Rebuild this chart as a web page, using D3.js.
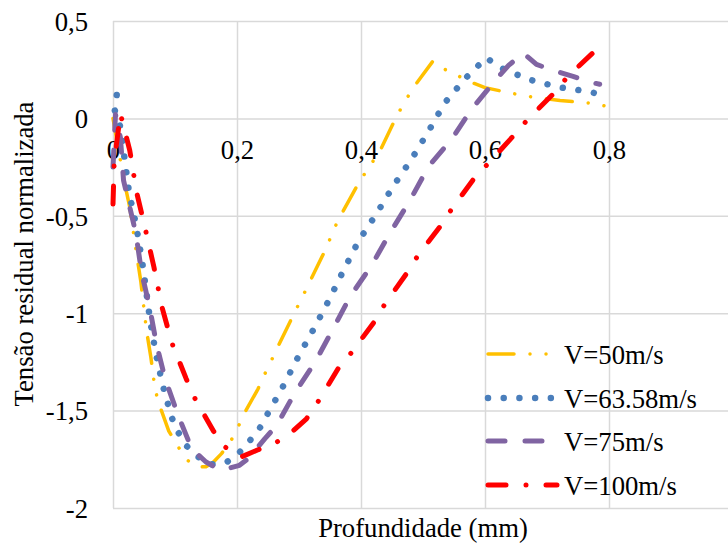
<!DOCTYPE html>
<html>
<head>
<meta charset="utf-8">
<script src="https://cdn.jsdelivr.net/npm/d3@7"></script>
<style>
  body { margin: 0; background: #fff; }
  svg text { font-family: "Liberation Serif", "Tinos", "Times New Roman", "DejaVu Serif", serif !important; fill: #000; }
</style>
</head>
<body>
<div id="chart"></div>
<script>
// tick labels (comma decimal, as in the original)
const xTicks = [0, 0.2, 0.4, 0.6, 0.8];
const xTickLabels = ["0", "0,2", "0,4", "0,6", "0,8"];
const xGrid = [0, 0.2, 0.4, 0.6, 0.8, 1];
const yTicks = [0.5, 0, -0.5, -1, -1.5, -2];
const yTickLabels = ["0,5", "0", "-0,5", "-1", "-1,5", "-2"];

const seriesNames = ["V=50m/s", "V=63.58m/s", "V=75m/s", "V=100m/s"];

// V=50m/s
const depth50 = [0, 0.017, 0.027, 0.038, 0.045, 0.054, 0.061, 0.068, 0.075, 0.090, 0.104, 0.117, 0.135, 0.150, 0.162, 0.175, 0.189, 0.201, 0.212, 0.234, 0.245, 0.256, 0.267, 0.288, 0.310, 0.342, 0.362, 0.397, 0.431, 0.458, 0.483, 0.516, 0.533, 0.553, 0.577, 0.600, 0.646, 0.670, 0.721, 0.768, 0.800];
const stress50 = [0, -0.308, -0.455, -0.695, -0.840, -1.088, -1.225, -1.393, -1.473, -1.605, -1.679, -1.747, -1.790, -1.788, -1.764, -1.721, -1.662, -1.590, -1.513, -1.388, -1.311, -1.239, -1.165, -1.028, -0.887, -0.678, -0.529, -0.327, -0.164, 0.015, 0.152, 0.294, 0.255, 0.224, 0.186, 0.158, 0.127, 0.113, 0.092, 0.079, 0.060];

// V=63.58m/s
const depth63 = [0.006, 0.003, 0.012, 0.019, 0.026, 0.037, 0.046, 0.053, 0.060, 0.069, 0.080, 0.087, 0.094, 0.104, 0.118, 0.136, 0.159, 0.183, 0.204, 0.221, 0.237, 0.250, 0.275, 0.299, 0.325, 0.349, 0.372, 0.396, 0.425, 0.452, 0.482, 0.509, 0.535, 0.568, 0.602, 0.623, 0.648, 0.672, 0.697, 0.723, 0.748, 0.774, 0.800];
const stress63 = [0.12, 0.04, -0.045, -0.216, -0.383, -0.544, -0.712, -0.873, -1.040, -1.205, -1.367, -1.448, -1.530, -1.605, -1.679, -1.735, -1.776, -1.766, -1.715, -1.653, -1.588, -1.513, -1.371, -1.222, -1.074, -0.928, -0.779, -0.630, -0.489, -0.348, -0.207, -0.065, 0.079, 0.204, 0.312, 0.263, 0.229, 0.199, 0.178, 0.158, 0.147, 0.132, 0.113];

// V=75m/s
const depth75 = [0, 0.004, 0.012, 0.017, 0.037, 0.046, 0.059, 0.070, 0.084, 0.104, 0.127, 0.150, 0.174, 0.204, 0.218, 0.245, 0.264, 0.294, 0.326, 0.355, 0.382, 0.417, 0.447, 0.479, 0.509, 0.546, 0.579, 0.619, 0.638, 0.662, 0.683, 0.713, 0.742, 0.770, 0.785];
const stress75 = [-0.25, 0.02, -0.10, -0.318, -0.592, -0.789, -0.969, -1.157, -1.336, -1.516, -1.696, -1.764, -1.807, -1.781, -1.747, -1.644, -1.576, -1.405, -1.251, -1.080, -0.917, -0.755, -0.587, -0.421, -0.246, -0.108, 0.050, 0.204, 0.272, 0.335, 0.277, 0.243, 0.216, 0.186, 0.175];

// V=100m/s
const depth100 = [0, 0.002, 0.012, 0.027, 0.038, 0.052, 0.066, 0.079, 0.095, 0.118, 0.131, 0.162, 0.181, 0.205, 0.234, 0.264, 0.291, 0.312, 0.331, 0.363, 0.384, 0.421, 0.438, 0.474, 0.491, 0.529, 0.547, 0.584, 0.606, 0.648, 0.669, 0.713, 0.734, 0.782];
const stress100 = [-0.44, -0.22, 0.024, -0.164, -0.378, -0.566, -0.763, -0.969, -1.153, -1.336, -1.431, -1.605, -1.687, -1.740, -1.701, -1.662, -1.602, -1.542, -1.453, -1.285, -1.205, -1.046, -0.956, -0.794, -0.708, -0.549, -0.462, -0.301, -0.229, -0.082, -0.005, 0.135, 0.217, 0.360];

const depths = [depth50, depth63, depth75, depth100];
const stresses = [stress50, stress63, stress75, stress100];

const styles = [
  { color: "#FFC000", width: 3.5, dash: "26 16 0.01 16 0.01 16" },
  { color: "#4A7EBB", width: 6.5, dash: "0.01 15.7" },
  { color: "#8064A2", width: 5, dash: "17 20" },
  { color: "#FF0000", width: 5, dash: "18 20 0.01 20" }
];

const FONT = "'Liberation Serif', Tinos, 'Times New Roman', 'DejaVu Serif', serif";
const W = 728, H = 545;
const plot = { left: 113, right: 733, top: 21, bottom: 508 };

const svg = d3.select("#chart").append("svg")
  .attr("width", W)
  .attr("height", H)
  .attr("font-family", FONT);

const x = d3.scaleLinear().domain([0, 1]).range([plot.left, plot.right]);
const y = d3.scaleLinear().domain([-2, 0.5]).range([plot.bottom, plot.top]);

// gridlines
const gridColor = "#d9d9d9";
svg.append("g")
  .attr("transform", "translate(0," + plot.bottom + ")")
  .call(d3.axisBottom(x).tickValues(xGrid).tickSize(-(plot.bottom - plot.top)).tickFormat(""))
  .call(g => g.select(".domain").remove())
  .call(g => g.selectAll("line").attr("stroke", gridColor).attr("stroke-width", 1.5));

svg.append("g")
  .attr("transform", "translate(" + plot.left + ",0)")
  .call(d3.axisLeft(y).tickValues(yTicks).tickSize(-(plot.right - plot.left)).tickFormat(""))
  .call(g => g.select(".domain").remove())
  .call(g => g.selectAll("line").attr("stroke", gridColor).attr("stroke-width", 1.5));

// y tick labels
svg.append("g")
  .attr("transform", "translate(" + (plot.left - 25) + ",0)")
  .call(d3.axisLeft(y).tickValues(yTicks).tickSize(0).tickPadding(0)
    .tickFormat((d, i) => yTickLabels[i]))
  .attr("font-family", FONT)
  .call(g => g.select(".domain").remove())
  .call(g => g.selectAll("text")
    .attr("font-size", "26.7px")
    .attr("dy", "0.35em"));

// x tick labels, sitting under the zero line
svg.append("g")
  .attr("transform", "translate(0," + y(0) + ")")
  .call(d3.axisBottom(x).tickValues(xTicks).tickSize(0).tickPadding(0)
    .tickFormat((d, i) => xTickLabels[i]))
  .attr("font-family", FONT)
  .call(g => g.select(".domain").remove())
  .call(g => g.selectAll("text")
    .attr("font-size", "26.7px")
    .attr("dy", null)
    .attr("y", 41));

// series lines
const line = d3.line()
  .x(d => x(d[0]))
  .y(d => y(d[1]));

seriesNames.forEach((name, i) => {
  const pts = depths[i].map((d, j) => [d, stresses[i][j]]);
  svg.append("path")
    .datum(pts)
    .attr("fill", "none")
    .attr("stroke", styles[i].color)
    .attr("stroke-width", styles[i].width)
    .attr("stroke-dasharray", styles[i].dash)
    .attr("stroke-linecap", "round")
    .attr("stroke-linejoin", "round")
    .attr("d", line);
});

// legend
const legendY = [354, 398, 441, 485];
const legend = svg.append("g");
seriesNames.forEach((name, i) => {
  const row = legend.append("g").attr("transform", "translate(0," + legendY[i] + ")");
  row.append("line")
    .attr("x1", 488).attr("x2", 557)
    .attr("y1", 0).attr("y2", 0)
    .attr("stroke", styles[i].color)
    .attr("stroke-width", styles[i].width)
    .attr("stroke-dasharray", styles[i].dash)
    .attr("stroke-linecap", "round");
  row.append("text")
    .attr("x", 564)
    .attr("y", 9.5)
    .attr("font-size", "26.7px")
    .text(name);
});

// axis titles
svg.append("text")
  .attr("x", (plot.left + plot.right) / 2)
  .attr("y", 537)
  .attr("text-anchor", "middle")
  .attr("font-size", "26.7px")
  .text("Profundidade (mm)");

svg.append("text")
  .attr("transform", "translate(33,254) rotate(-90)")
  .attr("text-anchor", "middle")
  .attr("font-size", "26.7px")
  .text("Tensão residual normalizada");
</script>
</body>
</html>
